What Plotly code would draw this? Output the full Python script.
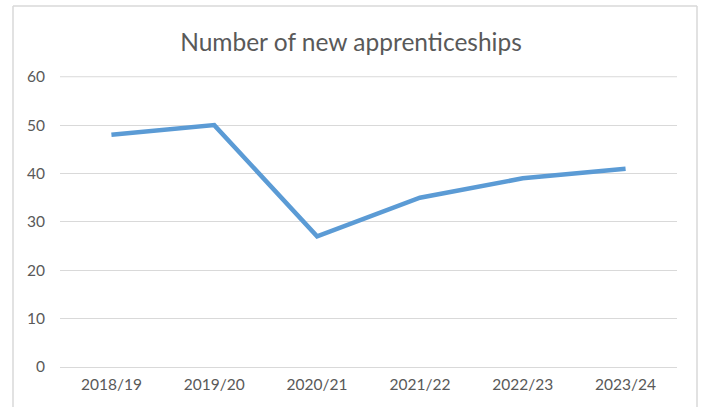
import plotly.graph_objects as go

# Apprenticeship starts per academic year
years = ["2018/19", "2019/20", "2020/21", "2021/22", "2022/23", "2023/24"]
new_apprenticeships = [48, 50, 27, 35, 39, 41]
y_ticks = [0, 10, 20, 30, 40, 50, 60]

W, H = 702, 407
L, R, T, B = 60, 25, 76, 40

fig = go.Figure()
fig.add_trace(go.Scatter(
    x=years,
    y=new_apprenticeships,
    mode="lines",
    line=dict(color="#5B9BD5", width=4.5),
    hoverinfo="x+y",
))

pw = W - L - R
ph = H - T - B


def px_x(p):
    return (p - L) / pw


def px_y(p):
    return (H - B - p) / ph


grid = "#D9D9D9"
border = "#D9D9D9"
x0, x1 = px_x(13), px_x(697)
y0, y1 = px_y(6), px_y(420)
shapes = [
    # chart-area frame (left, top, right)
    dict(type="line", xref="paper", yref="paper", x0=x0, x1=x1, y0=y0, y1=y0,
         line=dict(color=border, width=1.5)),
    dict(type="line", xref="paper", yref="paper", x0=x0, x1=x0, y0=y0, y1=y1,
         line=dict(color=border, width=1.5)),
    dict(type="line", xref="paper", yref="paper", x0=x1, x1=x1, y0=y0, y1=y1,
         line=dict(color=border, width=1.5)),
    # top gridline sits on the plot edge, so draw it explicitly
    dict(type="line", xref="paper", yref="y", x0=0, x1=1,
         y0=y_ticks[-1], y1=y_ticks[-1], layer="below",
         line=dict(color=grid, width=1.2)),
]

fig.update_layout(
    width=W,
    height=H,
    margin=dict(l=L, r=R, t=T, b=B),
    paper_bgcolor="white",
    plot_bgcolor="white",
    showlegend=False,
    font=dict(family="Lato, 'Open Sans', sans-serif", color="#595959", size=12),
    title=dict(
        text="Number of new apprenticeships",
        x=0.5,
        xanchor="center",
        y=1 - 42 / H,
        yanchor="middle",
        font=dict(size=24.5, color="#595959", family="Lato, 'Open Sans', sans-serif"),
    ),
    shapes=shapes,
)

fig.update_xaxes(
    type="category",
    range=[-0.5, len(years) - 0.5],
    showgrid=False,
    showline=False,
    zeroline=False,
    ticks="",
    tickfont=dict(size=15.5, color="#595959"),
    ticklabelstandoff=6,
)

fig.update_yaxes(
    range=[0, 60.15],
    tickvals=y_ticks,
    ticktext=[str(v) for v in y_ticks],
    showgrid=True,
    gridcolor=grid,
    gridwidth=1.2,
    zeroline=True,
    zerolinecolor=grid,
    zerolinewidth=1.2,
    showline=False,
    ticks="",
    tickfont=dict(size=15.5, color="#595959"),
    ticklabelstandoff=14,
)

fig.write_html("out.html")
